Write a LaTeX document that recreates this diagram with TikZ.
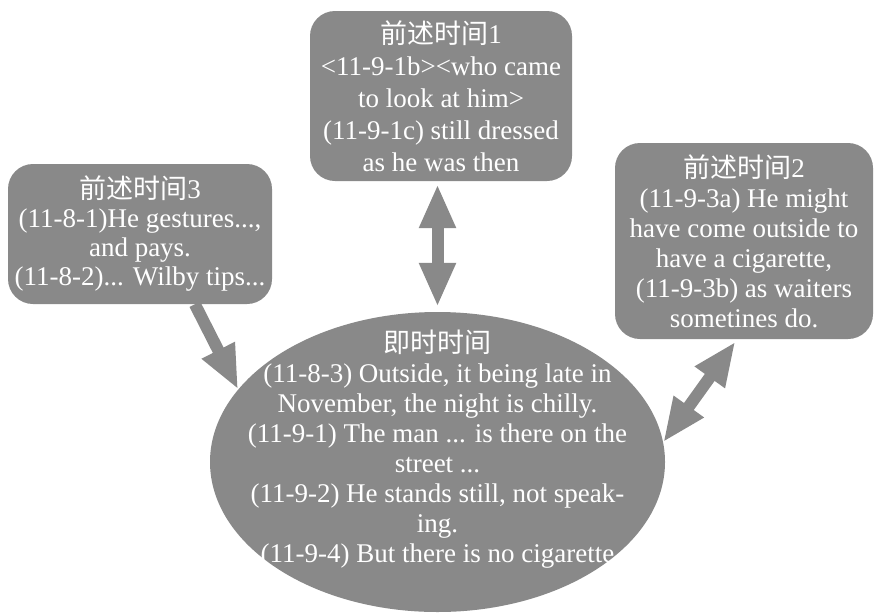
\documentclass[tikz,border=0pt]{standalone}
\usepackage{fontspec}
\setmainfont{Liberation Serif}
\newfontfamily\cjk{Noto Sans CJK SC}
\usetikzlibrary{arrows.meta,shapes.geometric}
\definecolor{boxgray}{RGB}{137,137,137}

\begin{document}
\begin{tikzpicture}[x=1pt,y=-1pt,
  card/.style={fill=boxgray,text=white,rounded corners=25pt,align=center,inner sep=0pt},
  now/.style={ellipse,fill=boxgray,inner sep=0pt,minimum width=455pt,minimum height=300pt},
  txt/.style={text=white,align=center,inner sep=0pt},
  fat/.style={draw=boxgray,line width=12pt},
  >={Triangle[length=44pt,width=34pt]}]
\useasboundingbox (0,0) rectangle (874,613);
\node[card,minimum width=262pt,minimum height=170pt,font=\fontsize{27}{32}\selectfont] (past1) at (441,96)
  {{\cjk 前述时间}1\\ <11-9-1b><who came\\ to look at him>\\ (11-9-1c) still dressed\\ as he was then};
\node[card,minimum width=264pt,minimum height=140pt,font=\fontsize{27}{29}\selectfont] (past3) at (140,234)
  {{\cjk 前述时间}3\\ (11-8-1)He gestures...,\\ and pays.\\ (11-8-2)... Wilby tips...};
\node[card,minimum width=258pt,minimum height=196pt,font=\fontsize{27}{30}\selectfont] (past2) at (744,241)
  {{\cjk 前述时间}2\\ (11-9-3a) He might\\ have come outside to\\ have a cigarette,\\ (11-9-3b) as waiters\\ sometines do.};
\node[now] (now) at (437.5,462) {};
\node[txt,font=\fontsize{27}{30}\selectfont] (nowtext) at (437.5,449)
  {{\cjk 即时时间}\\ (11-8-3) Outside, it being late in\\ November, the night is chilly.\\ (11-9-1) The man ... is there on the\\ street ...\\ (11-9-2) He stands still, not speak-\\ ing.\\ (11-9-4) But there is no cigarette};
\draw[fat,<->,shorten <=3pt,shorten >=5pt] (now.north |- past1.south) -- (now.north);
\draw[fat,->] (past3.-52) -- (now.160);
\draw[fat,<->,shorten <=3pt] (past2.-94) -- (now.5);
\end{tikzpicture}
\end{document}
